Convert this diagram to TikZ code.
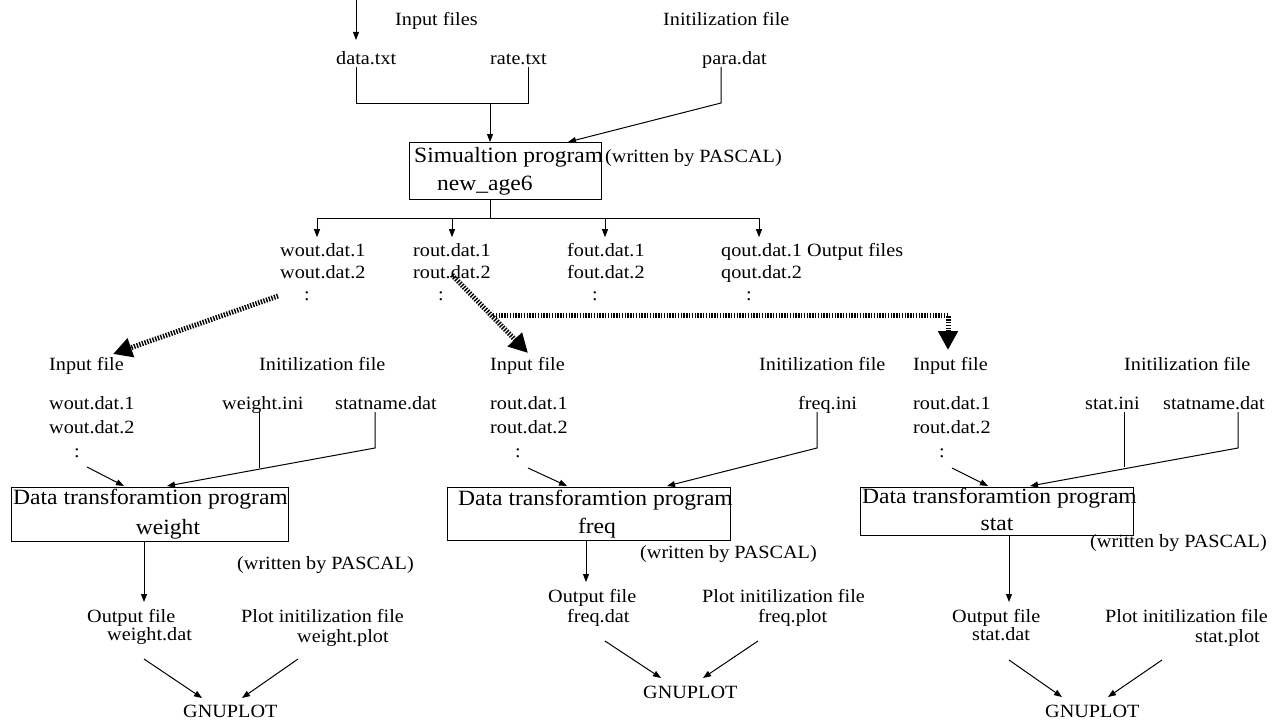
\documentclass[tikz,border=0pt]{standalone}
\usepackage{fontspec}
\setmainfont[FakeStretch=1.08]{Liberation Serif}
\usetikzlibrary{arrows.meta}
\tikzset{
  sm/.style={inner sep=0pt, anchor=base west, text depth=3pt, font=\fontsize{18.7}{22}\selectfont},
  bg/.style={inner sep=0pt, anchor=base west, font=\fontsize{21.8}{26}\selectfont},
  grpa/.style={inner sep=0pt, anchor=north west, align=left, font=\fontsize{18.7}{22}\selectfont},
  grpb/.style={inner sep=0pt, anchor=north west, align=left, font=\fontsize{18.7}{24}\selectfont},
  prog/.style={draw, line width=1.1pt, inner sep=0pt, anchor=north west},
  conn/.style={line width=1pt},
  arr/.style={conn, -{Triangle[length=8pt,width=6pt]}},
  flow/.style={line width=5pt, dash pattern=on 1.4pt off 1.4pt, -{Triangle[length=19pt,width=19pt]}},
}
\begin{document}
\begin{tikzpicture}[x=1pt,y=-1pt]
\useasboundingbox (0,0) rectangle (1287,725);

% ---------- top ----------
\coordinate (src) at (356,0);
\node[sm] (inputs) at (395,26) {Input files};
\node[sm] (inits) at (663,26) {Initilization file};
\node[sm] (data) at (336,64) {data.txt};
\node[sm] (rate) at (490,64) {rate.txt};
\node[sm] (para) at (702,64) {para.dat};
\coordinate (srcend) at (356,40);
\draw[arr] (src) -- (srcend);

\coordinate (jd) at (356,103);
\coordinate (jr) at (528,103);
\coordinate (jm) at (490,103);
\coordinate (jp) at (721,103);
\coordinate (simin1) at (490,142);
\coordinate (simin2) at (568,142);
\draw[conn] (data.south -| jd) -- (jd) -- (jr) -- (rate.south -| jr);
\draw[arr] (jm) -- (simin1);
\draw[arr] (para.south -| jp) -- (jp) -- (simin2);

\node[prog, minimum width=192pt, minimum height=57pt] (sim) at (409,142) {};
\node[bg] (simt) at (414,162) {Simualtion program};
\node[bg] (simn) at (437,190) {new\_age6};
\node[sm] (pas0) at (605,162) {(written by PASCAL)};

\coordinate (jb) at (490,218);
\coordinate (bw) at (317,218);
\coordinate (br) at (452,218);
\coordinate (bf) at (605,218);
\coordinate (bq) at (759,218);
\draw[conn] (sim.south -| jb) -- (jb);
\draw[conn] (bw) -- (bq);
\node[grpa] (wout) at (280,243.2) {wout.dat.1\\wout.dat.2\\\hspace*{24pt}:};
\node[grpa] (rout) at (413,243.2) {rout.dat.1\\rout.dat.2\\\hspace*{25pt}:};
\node[grpa] (fout) at (567,243.2) {fout.dat.1\\fout.dat.2\\\hspace*{25pt}:};
\node[grpa] (qout) at (721,243.2) {qout.dat.1\\qout.dat.2\\\hspace*{25pt}:};
\node[sm] (outf) at (807,256) {Output files};
\foreach \b/\n in {bw/wout, br/rout, bf/fout, bq/qout}
  \draw[arr, shorten >=6pt] (\b) -- (\b |- \n.north);

% ---------- thick flow arrows ----------
\coordinate (f1s) at (278,296);
\coordinate (f1e) at (113,354);
\coordinate (f2s) at (452,275);
\coordinate (f2e) at (528,353);
\coordinate (f3s) at (493,315);
\coordinate (f3c) at (948,315);
\coordinate (f3e) at (948,350);
\draw[flow] (f1s) -- (f1e);
\draw[flow] (f2s) -- (f2e);
\draw[flow] (f3s) -- (f3c) -- (f3e);

% ---------- left block ----------
\node[sm] (inL) at (49,370) {Input file};
\node[sm] (iniL) at (259,370) {Initilization file};
\node[grpb] (woutL) at (49,396.2) {wout.dat.1\\wout.dat.2\\\hspace*{25pt}:};
\node[sm] (wini) at (222,409) {weight.ini};
\node[sm] (snL) at (335,409) {statname.dat};
\coordinate (wiL) at (259,468);
\coordinate (snjL) at (375,448);
\coordinate (boxLin2) at (167,486);
\coordinate (iaL) at (87,467);
\coordinate (boxLin1) at (124,486);
\draw[conn] (wini.south -| wiL) -- (wiL);
\draw[arr] (snL.south -| snjL) -- (snjL) -- (boxLin2);
\draw[arr] (iaL) -- (boxLin1);
\node[prog, minimum width=277pt, minimum height=54pt] (boxL) at (11,487) {};
\node[bg] (dtL) at (13,504) {Data transforamtion program};
\node[bg, anchor=base] (nmL) at (168,534) {weight};
\node[sm] (pasL) at (237,569) {(written by PASCAL)};
\coordinate (aL) at (144,602);
\draw[arr] (boxL.south -| aL) -- (aL);
\node[sm] (ofL) at (87,622) {Output file};
\node[sm] (odL) at (107,640) {weight.dat};
\node[sm] (pfL) at (241,622) {Plot initilization file};
\node[sm] (pdL) at (297,642) {weight.plot};
\node[sm] (gL) at (183,717) {GNUPLOT};
\coordinate (g1L) at (144,659);
\coordinate (g1Le) at (202,698);
\coordinate (g2L) at (298,659);
\coordinate (g2Le) at (242,698);
\draw[arr] (g1L) -- (g1Le);
\draw[arr] (g2L) -- (g2Le);

% ---------- middle block ----------
\node[sm] (inM) at (490,370) {Input file};
\node[sm] (iniM) at (759,370) {Initilization file};
\node[grpb] (routM) at (490,396.2) {rout.dat.1\\rout.dat.2\\\hspace*{25pt}:};
\node[sm] (fini) at (798,409) {freq.ini};
\coordinate (fjM) at (817,448);
\coordinate (boxMin2) at (667,486);
\coordinate (iaM) at (528,468);
\coordinate (boxMin1) at (567,486);
\draw[arr] (fini.south -| fjM) -- (fjM) -- (boxMin2);
\draw[arr] (iaM) -- (boxMin1);
\node[prog, minimum width=283pt, minimum height=53pt] (boxM) at (447,487) {};
\node[bg] (dtM) at (458,505) {Data transforamtion program};
\node[bg, anchor=base] (nmM) at (597,533) {freq};
\node[sm] (pasM) at (640,558) {(written by PASCAL)};
\coordinate (aM) at (586,582);
\draw[arr] (boxM.south -| aM) -- (aM);
\node[sm] (ofM) at (548,602) {Output file};
\node[sm] (odM) at (567,622) {freq.dat};
\node[sm] (pfM) at (702,602) {Plot initilization file};
\node[sm] (pdM) at (758,622) {freq.plot};
\node[sm] (gM) at (643,698) {GNUPLOT};
\coordinate (g1M) at (605,641);
\coordinate (g1Me) at (661,678);
\coordinate (g2M) at (758,641);
\coordinate (g2Me) at (703,678);
\draw[arr] (g1M) -- (g1Me);
\draw[arr] (g2M) -- (g2Me);

% ---------- right block ----------
\node[sm] (inR) at (913,370) {Input file};
\node[sm] (iniR) at (1124,370) {Initilization file};
\node[grpb] (routR) at (913,396.2) {rout.dat.1\\rout.dat.2\\\hspace*{26pt}:};
\node[sm] (sini) at (1085,409) {stat.ini};
\node[sm] (snR) at (1163,409) {statname.dat};
\coordinate (siR) at (1124,467);
\coordinate (snjR) at (1238,448);
\coordinate (boxRin2) at (1030,486);
\coordinate (iaR) at (952,468);
\coordinate (boxRin1) at (988,486);
\draw[conn] (sini.south -| siR) -- (siR);
\draw[arr] (snR.south -| snjR) -- (snjR) -- (boxRin2);
\draw[arr] (iaR) -- (boxRin1);
\node[prog, minimum width=273pt, minimum height=48pt] (boxR) at (860,487) {};
\node[bg] (dtR) at (862,503) {Data transforamtion program};
\node[bg, anchor=base] (nmR) at (997,530) {stat};
\node[sm] (pasR) at (1090,547) {(written by PASCAL)};
\coordinate (aR) at (1009,602);
\draw[arr] (boxR.south -| aR) -- (aR);
\node[sm] (ofR) at (952,622) {Output file};
\node[sm] (odR) at (972,640) {stat.dat};
\node[sm] (pfR) at (1105,622) {Plot initilization file};
\node[sm] (pdR) at (1195,642) {stat.plot};
\node[sm] (gR) at (1045,717) {GNUPLOT};
\coordinate (g1R) at (1009,660);
\coordinate (g1Re) at (1062,697);
\coordinate (g2R) at (1162,660);
\coordinate (g2Re) at (1108,697);
\draw[arr] (g1R) -- (g1Re);
\draw[arr] (g2R) -- (g2Re);
\end{tikzpicture}
\end{document}
